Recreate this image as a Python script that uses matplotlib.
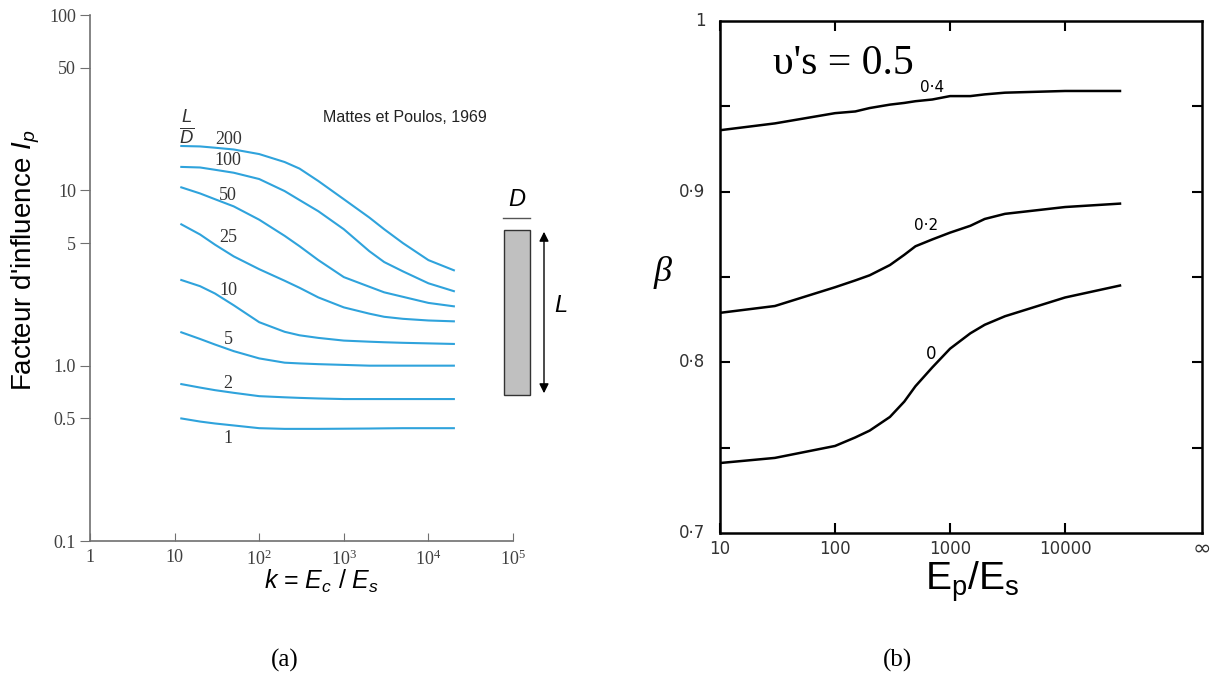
import matplotlib
matplotlib.use("Agg")
import matplotlib.pyplot as plt
from matplotlib.patches import Rectangle, FancyArrowPatch
from matplotlib.lines import Line2D

plt.rcParams['mathtext.fontset'] = 'custom'
plt.rcParams['mathtext.rm'] = 'Liberation Serif'
plt.rcParams['mathtext.it'] = 'Liberation Sans:italic'
plt.rcParams['mathtext.sf'] = 'Liberation Sans'

# (a) Mattes et Poulos, 1969 : facteur d'influence I_p
k_a = [12, 20, 30, 50, 100, 200, 300, 500, 1000, 2000, 3000, 5000, 10000, 20000]
ld_ratios = ['200', '100', '50', '25', '10', '5', '2', '1']
ip_200 = [17.9, 17.8, 17.5, 17.1, 16.1, 14.5, 13.3, 11.3, 8.9, 7.0, 6.0, 5.0, 4.0, 3.5]
ip_100 = [13.6, 13.5, 13.1, 12.6, 11.6, 9.9, 8.8, 7.6, 6.0, 4.5, 3.9, 3.45, 2.95, 2.66]
ip_50 = [10.4, 9.6, 8.9, 8.1, 6.8, 5.5, 4.8, 4.0, 3.2, 2.82, 2.62, 2.47, 2.28, 2.18]
ip_25 = [6.4, 5.6, 4.9, 4.2, 3.55, 3.05, 2.78, 2.45, 2.15, 1.98, 1.9, 1.85, 1.81, 1.79]
ip_10 = [3.08, 2.84, 2.58, 2.21, 1.77, 1.56, 1.49, 1.44, 1.39, 1.37, 1.36, 1.35, 1.34, 1.33]
ip_5 = [1.55, 1.42, 1.32, 1.21, 1.10, 1.04, 1.03, 1.02, 1.01, 1.0, 1.0, 1.0, 1.0, 1.0]
ip_2 = [0.785, 0.75, 0.725, 0.70, 0.67, 0.66, 0.655, 0.65, 0.645, 0.645, 0.645, 0.645,
        0.645, 0.645]
ip_1 = [0.50, 0.48, 0.468, 0.456, 0.44, 0.436, 0.436, 0.436, 0.437, 0.438, 0.439, 0.44,
        0.44, 0.44]
ip_curves = [ip_200, ip_100, ip_50, ip_25, ip_10, ip_5, ip_2, ip_1]
ld_label_y = [19.6, 14.7, 9.35, 5.37, 2.7, 1.41, 0.79, 0.386]
y_ticks_a = [0.1, 0.5, 1.0, 5, 10, 50, 100]
y_ticklabels_a = ['0.1', '0.5', '1.0', '5', '10', '50', '100']
x_ticks_a = [1, 10, 100, 1000, 10000, 100000]
x_ticklabels_a = ['1', '10', r'$\mathrm{10^2}$', r'$\mathrm{10^3}$', r'$\mathrm{10^4}$', r'$\mathrm{10^5}$']

# (b) beta vs Ep/Es, v's = 0.5
k_b = [10, 30, 100, 150, 200, 300, 400, 500, 700, 1000, 1500, 2000, 3000, 10000, 30000]
nu_labels = ['0·4', '0·2', '0']
beta_04 = [0.936, 0.940, 0.946, 0.947, 0.949, 0.951, 0.952, 0.953, 0.954, 0.956, 0.956,
           0.957, 0.958, 0.959, 0.959]
beta_02 = [0.829, 0.833, 0.844, 0.848, 0.851, 0.857, 0.863, 0.868, 0.872, 0.876, 0.880,
           0.884, 0.887, 0.891, 0.893]
beta_00 = [0.741, 0.744, 0.751, 0.756, 0.760, 0.768, 0.777, 0.786, 0.797, 0.808, 0.817,
           0.822, 0.827, 0.838, 0.845]
beta_curves = [beta_04, beta_02, beta_00]
y_ticks_b = [0.7, 0.8, 0.9, 1.0]
y_ticklabels_b = ['0·7', '0·8', '0·9', '1']
x_ticks_b = [10, 100, 1000, 10000]
x_ticklabels_b = ['10', '100', '1000', '10000']

W, H = 1210, 686
fig = plt.figure(figsize=(12.1, 6.86), dpi=100)


def fx(px):
    return px / W


def fy(py):
    return 1 - py / H


# ---- panel (a)
ax1 = fig.add_axes([fx(90), fy(541), fx(513) - fx(90), fy(15) - fy(541)])
blue = '#2fa3dc'
for ip in ip_curves:
    ax1.plot(k_a, ip, color=blue, lw=1.5)
ax1.set_xscale('log')
ax1.set_yscale('log')
ax1.set_xlim(1, 1e5)
ax1.set_ylim(0.1, 100)
ax1.minorticks_off()
ax1.set_yticks(y_ticks_a)
ax1.set_yticklabels(y_ticklabels_a)
ax1.set_xticks(x_ticks_a)
ax1.set_xticklabels(x_ticklabels_a)
for s in ['top', 'right']:
    ax1.spines[s].set_visible(False)
for s in ['left', 'bottom']:
    ax1.spines[s].set_color('#707070')
    ax1.spines[s].set_linewidth(1.2)
ax1.tick_params(axis='y', direction='out', length=7, color='#707070', labelsize=13,
                labelcolor='#404040', pad=3)
ax1.tick_params(axis='x', direction='in', length=6, color='#707070', labelsize=13,
                labelcolor='#404040', pad=6)
for lab in ax1.get_xticklabels() + ax1.get_yticklabels():
    lab.set_family('Liberation Serif')

for lab, yv in zip(ld_ratios, ld_label_y):
    ax1.text(43, yv, lab, family='Liberation Serif', fontsize=13, color='#333333',
             ha='center', va='center')
ax1.text(14, 22.6, r'$\mathrm{\frac{\mathit{L}}{\mathit{D}}}$', fontsize=19,
         color='#333333', ha='center', va='center')
fig.text(fx(405), fy(117), 'Mattes et Poulos, 1969', family='Liberation Sans',
         fontsize=11.5, ha='center', va='center', color='#222222')

fig.text(fx(26), fy(260), r"Facteur d'influence $\mathit{I_p}$", rotation=90,
         family='Liberation Sans', fontsize=20, ha='center', va='center')
fig.text(fx(322), fy(581), r'$\mathit{k}$ = $\mathit{E_c}$ / $\mathit{E_s}$',
         family='Liberation Sans', fontsize=18, ha='center', va='center')

# pile sketch
fig.patches.append(Rectangle((fx(504), fy(395)), fx(530) - fx(504), fy(230) - fy(395),
                             transform=fig.transFigure, facecolor='#c0c0c0',
                             edgecolor='#333333', lw=1))
fig.lines.append(Line2D([fx(503), fx(530)], [fy(218), fy(218)], transform=fig.transFigure,
                        color='#555555', lw=1))
fig.patches.append(FancyArrowPatch((fx(544), fy(229)), (fx(544), fy(396)),
                                   transform=fig.transFigure, arrowstyle='<|-|>',
                                   mutation_scale=14, color='black', lw=1))
fig.text(fx(517), fy(199), 'D', family='Liberation Sans', style='italic', fontsize=17,
         ha='center', va='center')
fig.text(fx(561), fy(305), 'L', family='Liberation Sans', style='italic', fontsize=17,
         ha='center', va='center')

# ---- panel (b)
ax2 = fig.add_axes([fx(720), fy(533), fx(1202) - fx(720), fy(21) - fy(533)])
for b in beta_curves:
    ax2.plot(k_b, b, color='black', lw=1.8)
ax2.set_xscale('log')
ax2.set_xlim(10, 10 ** 5.19)
ax2.set_ylim(0.7, 1.0)
ax2.minorticks_off()
ax2.set_xticks(x_ticks_b)
ax2.set_xticklabels(x_ticklabels_b)
ax2.set_yticks([0.75, 0.8, 0.85, 0.9, 0.95])
ax2.set_yticklabels(['', '', '', '', ''])
for s in ax2.spines.values():
    s.set_linewidth(1.8)
ax2.tick_params(axis='both', direction='in', length=7, width=1.5, top=True, right=True,
                labelsize=12)
ax2.tick_params(axis='x', pad=5)
for lab in ax2.get_xticklabels():
    lab.set_family('DejaVu Sans')
    lab.set_color('#333333')
for yv, lab in zip(y_ticks_b, y_ticklabels_b):
    ax2.text(-0.03, yv, lab, transform=ax2.get_yaxis_transform(), ha='right',
             va='center', fontsize=12, family='DejaVu Sans', color='#333333')
ax2.text(1.0, -0.03, '∞', transform=ax2.transAxes, ha='center', va='center',
         fontsize=16, family='DejaVu Sans', color='#333333')

ax2.text(700, 0.961, nu_labels[0], ha='center', va='center', fontsize=11,
         family='DejaVu Sans')
ax2.text(620, 0.880, nu_labels[1], ha='center', va='center', fontsize=11,
         family='DejaVu Sans')
ax2.text(690, 0.805, nu_labels[2], ha='center', va='center', fontsize=12,
         family='DejaVu Sans')
ax2.text(0.255, 0.917, "υ's = 0.5", transform=ax2.transAxes, ha='center', va='center',
         fontsize=30, family='Liberation Serif')
fig.text(fx(663), fy(272), 'β', family='Liberation Serif', style='italic', fontsize=26,
         ha='center', va='center')
fig.text(fx(972), fy(582), r'$\mathsf{E_p/E_s}$', fontsize=28, ha='center', va='center')

fig.text(fx(285), fy(660), '(a)', family='Liberation Serif', fontsize=18, ha='center',
         va='center')
fig.text(fx(897), fy(660), '(b)', family='Liberation Serif', fontsize=18, ha='center',
         va='center')

fig.savefig('out.png', dpi=100)
